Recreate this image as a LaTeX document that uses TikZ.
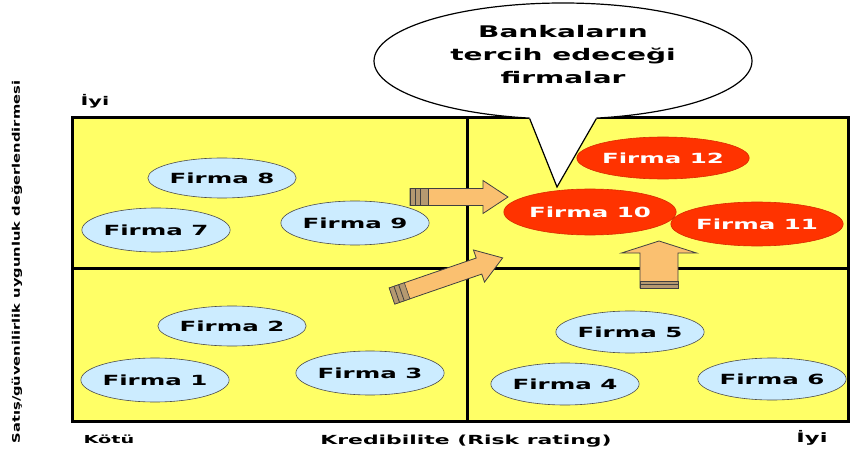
\documentclass[tikz,border=0pt]{standalone}
\usepackage{fontspec}
\usetikzlibrary{shapes.geometric, calc}
\newfontfamily\lblfont[FakeStretch=1.75]{DejaVu Sans}
\newfontfamily\yanfont[FakeStretch=1.4]{DejaVu Sans}
\definecolor{boxyellow}{RGB}{255,255,102}
\definecolor{firmablue}{RGB}{204,236,255}
\definecolor{firmared}{RGB}{255,51,0}
\definecolor{okorange}{RGB}{250,192,112}
\definecolor{okdark}{RGB}{150,110,50}
\tikzset{
  firma/.style={ellipse, draw=black!70, line width=0.6pt, fill=firmablue,
    minimum width=134pt, minimum height=42pt, inner sep=0pt,
    font=\lblfont\bfseries\fontsize{14}{16}\selectfont},
  secilen/.style={firma, fill=firmared, draw=firmared!85!black, text=white},
  eksen/.style={inner sep=0pt, font=\lblfont\bfseries\fontsize{12}{14}\selectfont},
  okgovde/.style={fill=okorange, draw=black!75, line width=0.8pt, line join=miter},
  okkuyruk/.style={fill=okdark!70, draw=black!75, line width=0.6pt}
}

\begin{document}
\begin{tikzpicture}[x=1pt, y=-1pt]
\useasboundingbox (0,0) rectangle (856,457);
\fill[boxyellow] (72,118) rectangle (848,421);
\draw[line width=3pt] (467,118) -- (467,421);
\draw[line width=3pt] (72,268) -- (848,268);
\draw[line width=3pt] (72,118) rectangle (848,421);
\node[eksen] (iyiust) at (95,101) {İyi};
\node[eksen, font=\lblfont\bfseries\fontsize{11}{13}\selectfont] (kotu) at (109,439) {Kötü};
\node[eksen, font=\lblfont\bfseries\fontsize{12.5}{14}\selectfont] (kredi) at (466,441) {Kredibilite (Risk rating)};
\node[eksen, font=\lblfont\bfseries\fontsize{13}{15}\selectfont] (iyialt) at (812,438) {İyi};
\node[inner sep=0pt, rotate=90, font=\yanfont\bfseries\fontsize{10.5}{12}\selectfont] (yan) at (17,262) {Satış/güvenilirlik uygunluk değerlendirmesi};
\node[firma, minimum width=136pt, minimum height=40pt] (f8) at (222,178) {Firma 8};
\node[firma, minimum width=140pt, minimum height=44pt] (f7) at (156,230) {Firma 7};
\node[firma, minimum width=130pt, minimum height=44pt] (f9) at (355,223) {Firma 9};
\node[firma, minimum width=130pt, minimum height=40pt] (f2) at (232,326) {Firma 2};
\node[firma, minimum width=136pt, minimum height=44pt] (f1) at (155,380) {Firma 1};
\node[firma, minimum width=132pt, minimum height=44pt] (f3) at (370,373) {Firma 3};
\node[firma, minimum width=130pt, minimum height=42pt] (f5) at (630,332) {Firma 5};
\node[firma, minimum width=130pt, minimum height=42pt] (f4) at (565,384) {Firma 4};
\node[firma, minimum width=130pt, minimum height=42pt] (f6) at (772,379) {Firma 6};
\node[secilen, minimum width=146pt, minimum height=42pt] (f12) at (663,158) {Firma 12};
\node[secilen, minimum width=140pt, minimum height=46pt] (f10) at (590,212) {Firma 10};
\node[secilen, minimum width=146pt, minimum height=44pt] (f11) at (757,224) {Firma 11};
\begin{scope}[shift={(410,197)}]
\draw[okgovde] (0,-8.5) -- (73,-8.5) -- (73,-16.5) -- (98,0) -- (73,16.5) -- (73,8.5) -- (0,8.5) -- cycle;
\draw[okkuyruk] (0,-8.5) rectangle (18,8.5);
\draw[black!75, line width=0.8pt] (5,-8.5) -- (5,8.5);
\draw[black!75, line width=0.8pt] (10,-8.5) -- (10,8.5);
\end{scope}
\begin{scope}[shift={(392,296)}, rotate=19]
\draw[okgovde] (0,-8.5) -- (92,-8.5) -- (92,-17) -- (117,0) -- (92,17) -- (92,8.5) -- (0,8.5) -- cycle;
\draw[okkuyruk] (0,-8.5) rectangle (16,8.5);
\draw[black!75, line width=0.8pt] (5,-8.5) -- (5,8.5);
\draw[black!75, line width=0.8pt] (10,-8.5) -- (10,8.5);
\end{scope}
\begin{scope}[shift={(659,288)}, rotate=90]
\draw[okgovde] (0,-19) -- (35,-19) -- (35,-37.5) -- (47,0) -- (35,37.5) -- (35,19) -- (0,19) -- cycle;
\draw[okkuyruk] (0,-19) rectangle (7,19);
\draw[black!75, line width=0.6pt] (3.5,-19) -- (3.5,19);
\end{scope}
\node[ellipse, draw, line width=1.2pt, fill=white, minimum width=378pt, minimum height=116pt,
  inner sep=0pt] (balon) at (563,61) {};
\coordinate (uc) at (557,187);
\fill[white] (balon.240) -- (uc) -- (balon.300) -- ($(balon.300)+(0,-6)$) -- ($(balon.240)+(0,-6)$) -- cycle;
\draw[line width=1.2pt] (balon.240) -- (uc) -- (balon.300);
\node[inner sep=0pt, align=center, font=\lblfont\bfseries\fontsize{16}{23}\selectfont] (balonyazi) at (563,55)
  {Bankaların\\tercih edeceği\\firmalar};
\end{tikzpicture}
\end{document}
